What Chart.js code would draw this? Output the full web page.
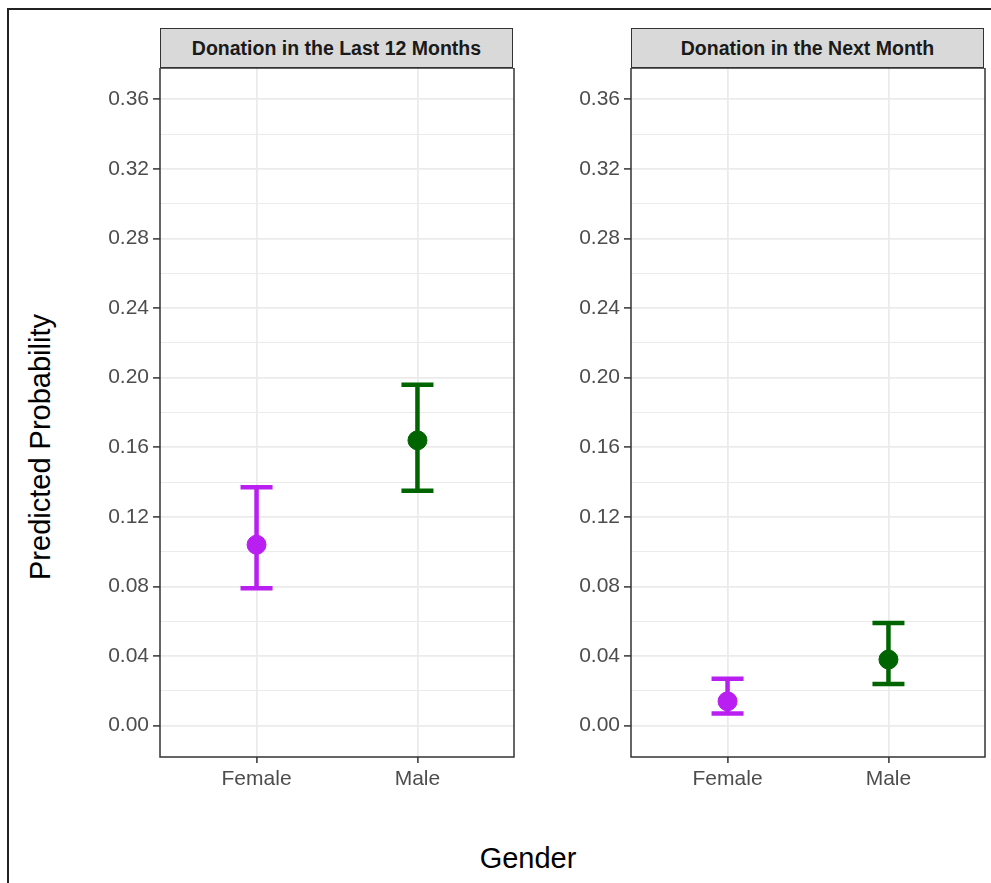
<!DOCTYPE html>
<html>
<head>
<meta charset="utf-8">
<script src="https://cdn.jsdelivr.net/npm/chart.js@4.4.1/dist/chart.umd.min.js"></script>
<style>
  body { margin: 0; background: #fff; font-family: "Liberation Sans", Arial, sans-serif; }
  #wrap { position: relative; width: 991px; height: 883px; overflow: hidden; }
  #frame { position: absolute; left: 7px; top: 8px; width: 1000px; height: 900px;
           border-left: 2px solid #222; border-top: 2px solid #222; }
  .strip { position: absolute; top: 28px; width: 351px; height: 38px; background: #d9d9d9;
           border: 1.5px solid #333; text-align: center; line-height: 39px;
           font-weight: bold; font-size: 19.5px; color: #1a1a1a; }
  canvas { position: absolute; }
  .ytitle { position: absolute; left: 40px; top: 447px; font-size: 29px; color: #000;
            transform: translate(-50%, -50%) rotate(-90deg); white-space: nowrap; }
  .xtitle { position: absolute; left: 528px; top: 858px; font-size: 29px; color: #000;
            transform: translate(-50%, -50%); white-space: nowrap; }
</style>
</head>
<body>
<div id="wrap">
  <div id="frame"></div>
  <canvas id="c1" width="420" height="739" style="left:100px;top:68px"></canvas>
  <canvas id="c2" width="420" height="739" style="left:571px;top:68px"></canvas>
  <div class="strip" id="s1" style="left:160px"></div>
  <div class="strip" id="s2" style="left:631px"></div>
  <div class="ytitle">Predicted Probability</div>
  <div class="xtitle">Gender</div>
</div>
<script>
// data
const genders = ["Female", "Male"];
const panelTitles = ["Donation in the Last 12 Months", "Donation in the Next Month"];

const last12Est = [0.104, 0.164];
const last12Lo = [0.079, 0.135];
const last12Hi = [0.137, 0.196];

const nextEst = [0.014, 0.038];
const nextLo = [0.007, 0.024];
const nextHi = [0.027, 0.059];

const yMajor = [0, 0.04, 0.08, 0.12, 0.16, 0.20, 0.24, 0.28, 0.32, 0.36];
const yMinor = [0.02, 0.06, 0.10, 0.14, 0.18, 0.22, 0.26, 0.30, 0.34];

const genderColors = ["#b81ff0", "#006400"];

document.getElementById("s1").innerText = panelTitles[0];
document.getElementById("s2").innerText = panelTitles[1];

const tickFont = { family: "Liberation Sans", size: 21 };

// panel border
const boxPlugin = {
    id: "box",
    afterDraw(chart) {
        const a = chart.chartArea;
        const ctx = chart.ctx;
        ctx.save();
        ctx.strokeStyle = "#333";
        ctx.lineWidth = 1.5;
        ctx.strokeRect(a.left, a.top, a.right - a.left, a.bottom - a.top);
        ctx.restore();
    }
};

// no extra room for edge labels
function noPad(s) {
    s.paddingTop = 0;
    s.paddingBottom = 0;
    s.paddingLeft = 0;
    s.paddingRight = 0;
}

function isMajor(v) {
    return yMajor.some(m => Math.abs(m - v) < 1e-9);
}

function makePanel(id, est, lo, hi) {
    let datasets = [];
    genders.forEach((g, i) => {
        datasets.push({
            data: [{ x: i + 1, y: est[i] }],
            backgroundColor: genderColors[i],
            borderColor: genderColors[i],
            pointRadius: 9.5,
            pointHoverRadius: 9.5,
            order: 0
        });
        datasets.push({
            data: [{ x: i + 1, y: lo[i] }, { x: i + 1, y: hi[i] }],
            showLine: true,
            borderColor: genderColors[i],
            backgroundColor: genderColors[i],
            borderWidth: 4.5,
            pointStyle: "line",
            pointRadius: 16,
            pointBorderWidth: 4.5,
            pointHoverRadius: 16,
            order: 1
        });
    });

    const allY = yMinor.concat(yMajor).sort((a, b) => a - b);

    new Chart(document.getElementById(id), {
        type: "scatter",
        data: { datasets: datasets },
        options: {
            responsive: false,
            animation: false,
            layout: { autoPadding: false, padding: { left: 0, right: 6, top: 0, bottom: 0 } },
            plugins: { legend: { display: false }, tooltip: { enabled: false } },
            scales: {
                x: {
                    type: "linear",
                    min: 0.4,
                    max: 2.6,
                    afterBuildTicks: (s) => { s.ticks = genders.map((g, i) => ({ value: i + 1 })); },
                    afterFit: (s) => { s.height = 50; noPad(s); },
                    border: { display: false },
                    grid: { color: "#ebebeb", lineWidth: 1.8, tickLength: 6, tickColor: "#333", tickWidth: 1.5 },
                    ticks: {
                        padding: 4,
                        color: "#4d4d4d",
                        font: tickFont,
                        maxRotation: 0,
                        callback: (v) => genders[Math.round(v) - 1]
                    }
                },
                y: {
                    min: -0.018,
                    max: 0.378,
                    afterBuildTicks: (s) => { s.ticks = allY.map(v => ({ value: v })); },
                    afterFit: (s) => { s.width = 60; noPad(s); },
                    border: { display: false },
                    grid: {
                        color: "#ebebeb",
                        lineWidth: (c) => isMajor(c.tick.value) ? 1.8 : 1,
                        tickLength: 7,
                        tickWidth: 1.5,
                        tickColor: (c) => isMajor(c.tick.value) ? "#333" : "rgba(0,0,0,0)"
                    },
                    ticks: {
                        padding: 4,
                        color: "#4d4d4d",
                        font: tickFont,
                        autoSkip: false,
                        callback: (v) => isMajor(v) ? v.toFixed(2) : ""
                    }
                }
            }
        },
        plugins: [boxPlugin]
    });
}

makePanel("c1", last12Est, last12Lo, last12Hi);
makePanel("c2", nextEst, nextLo, nextHi);
</script>
</body>
</html>
